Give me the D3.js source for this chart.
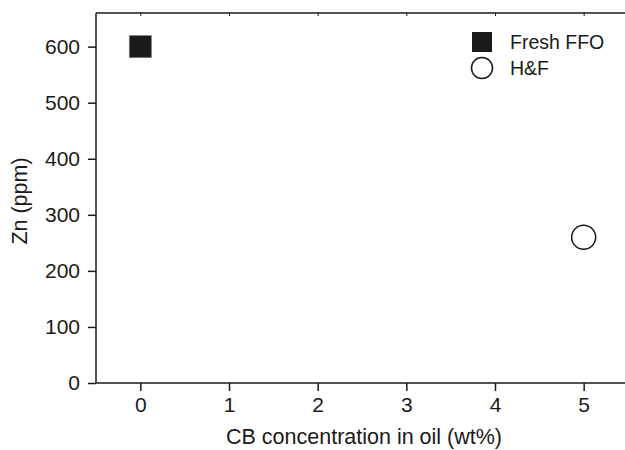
<!DOCTYPE html>
<html>
<head>
  <meta charset="UTF-8">
  <style>
    body { margin: 0; background: #fff; }
    text { font-family: "Liberation Sans", Arial, sans-serif; fill: #1a1a1a; }
  </style>
</head>
<body>
  <svg></svg>
  <script src="https://d3js.org/d3.v7.min.js"></script>
  <script>
    // data
    let series = ["Fresh FFO", "H&F"];
    let cbConc = [0, 5];
    let znPpm = [600, 260];
    let xTicks = [0, 1, 2, 3, 4, 5];
    let yTicks = [0, 100, 200, 300, 400, 500, 600];

    let width = 625, height = 450;
    let plotLeft = 96, plotTop = 13, plotBottom = 383;

    let svg = d3.select("svg")
      .attr("width", width)
      .attr("height", height);

    let x = d3.scaleLinear().domain([-0.5, 5.5]).range([plotLeft, 628]);
    let y = d3.scaleLinear().domain([0, 660]).range([plotBottom, plotTop]);

    // bottom axis
    let xAxis = svg.append("g")
      .attr("transform", "translate(0," + plotBottom + ")")
      .call(d3.axisBottom(x).tickValues(xTicks).tickSize(8).tickPadding(6).tickFormat(d3.format("d")));

    // top line with small inward ticks
    let topAxis = svg.append("g")
      .attr("transform", "translate(0," + plotTop + ")")
      .call(d3.axisTop(x).tickValues(xTicks).tickSize(-3).tickFormat(""));

    // left axis
    let yAxis = svg.append("g")
      .attr("transform", "translate(" + plotLeft + ",0)")
      .call(d3.axisLeft(y).tickValues(yTicks).tickSize(8).tickPadding(8).tickFormat(d3.format("d")));

    svg.selectAll(".domain").attr("stroke", "#1a1a1a").attr("stroke-width", 1.5);
    svg.selectAll(".tick line").attr("stroke", "#1a1a1a").attr("stroke-width", 1.5);
    topAxis.selectAll(".tick line").attr("stroke-width", 1);
    svg.selectAll(".tick text").style("font-size", "21px").style("font-family", "'Liberation Sans', Arial, sans-serif").attr("fill", "#1a1a1a");

    // remove the end caps the axis paths draw
    xAxis.select(".domain").attr("d", "M" + plotLeft + ",0H" + width);
    topAxis.select(".domain").attr("d", "M" + plotLeft + ",0H" + width);
    yAxis.select(".domain").attr("d", "M0," + plotBottom + "V" + plotTop);

    // axis titles
    svg.append("text")
      .attr("x", (x(-0.5) + x(5.5)) / 2 + 2)
      .attr("y", 444)
      .attr("text-anchor", "middle")
      .style("font-size", "21.5px")
      .text("CB concentration in oil (wt%)");

    svg.append("text")
      .attr("transform", "translate(27," + ((plotTop + plotBottom) / 2 + 3) + ") rotate(-90)")
      .attr("text-anchor", "middle")
      .style("font-size", "21.5px")
      .text("Zn (ppm)");

    // points
    svg.append("rect")
      .attr("x", x(cbConc[0]) - 11)
      .attr("y", y(znPpm[0]) - 11)
      .attr("width", 22)
      .attr("height", 22)
      .attr("fill", "#1a1a1a")
      .attr("stroke", "#777")
      .attr("stroke-width", 0.8);

    svg.append("circle")
      .attr("cx", x(cbConc[1]))
      .attr("cy", y(znPpm[1]))
      .attr("r", 12)
      .attr("fill", "#fff")
      .attr("stroke", "#1a1a1a")
      .attr("stroke-width", 1.5);

    // legend
    let legend = svg.append("g").attr("transform", "translate(482,0)");
    legend.append("rect")
      .attr("x", -10).attr("y", 32)
      .attr("width", 20).attr("height", 20)
      .attr("fill", "#1a1a1a");
    legend.append("circle")
      .attr("cx", 0).attr("cy", 68)
      .attr("r", 10.5)
      .attr("fill", "#fff")
      .attr("stroke", "#1a1a1a")
      .attr("stroke-width", 1.5);
    legend.selectAll("text.lab")
      .data(series)
      .enter()
      .append("text")
      .attr("class", "lab")
      .attr("x", 28)
      .attr("y", (d, i) => 49 + i * 26)
      .style("font-size", "19.5px")
      .text(d => d);
  </script>
</body>
</html>
